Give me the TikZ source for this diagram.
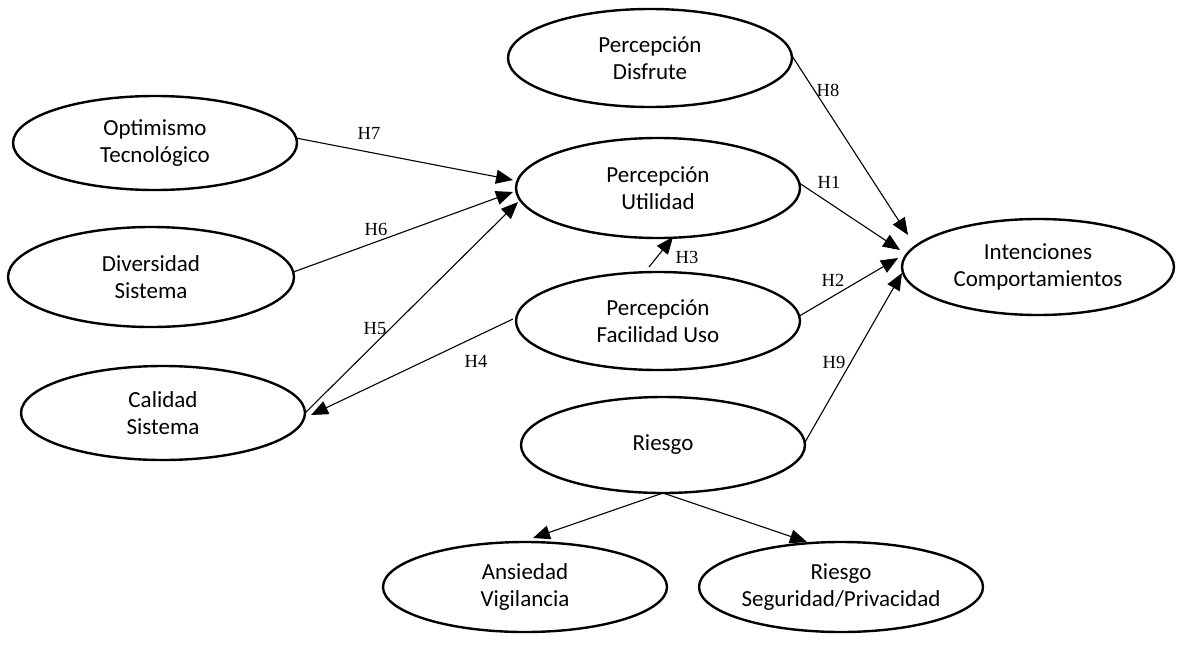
\documentclass[tikz,border=0pt]{standalone}
\usepackage{fontspec}
\setmainfont{Liberation Serif}
\newfontfamily\ovalfont{Carlito}
\usetikzlibrary{shapes.geometric,arrows.meta}
\begin{document}
\begin{tikzpicture}[x=1pt,y=-1pt,
  construct/.style 2 args={ellipse,draw,line width=2.4pt,inner sep=0pt,outer sep=0pt,
    align=center,minimum width=#1,minimum height=#2,
    font=\ovalfont\fontsize{23}{27}\selectfont},
  link/.style={line width=1.1pt,-{Triangle[length=17pt,width=14pt]}},
  hyp/.style={font=\fontsize{18.5}{20}\selectfont,inner sep=0pt}]
\useasboundingbox (0,0) rectangle (1181,645);

% constructs of the model
\node[construct={284pt}{98pt}] (pd) at (650,58)  {Percepción\\Disfrute};
\node[construct={284pt}{94pt}] (ot) at (155,143) {Optimismo\\Tecnológico};
\node[construct={284pt}{100pt}] (pu) at (658,188) {Percepción\\Utilidad};
\node[construct={286pt}{100pt}] (ds) at (151,277) {Diversidad\\Sistema};
\node[construct={284pt}{98pt}] (pf) at (658,321) {Percepción\\Facilidad Uso};
\node[construct={272pt}{96pt}] (ic) at (1038,267) {Intenciones\\Comportamientos};
\node[construct={284pt}{94pt}] (cs) at (163,413) {Calidad\\Sistema};
\node[construct={284pt}{96pt}] (rg) at (663,445) {Riesgo};
\node[construct={284pt}{90pt}] (av) at (525,587) {Ansiedad\\Vigilancia};
\node[construct={284pt}{90pt}] (rs) at (841,587) {Riesgo\\Seguridad/Privacidad};

% hypotheses towards behavioural intentions
\draw[link] (pd.1) -- ([shift={(6,-32)}]ic.west);
\draw[link] (pu.2) -- ([shift={(-2,-17)}]ic.west);
\draw[link] (pf.2) -- ([shift={(-4,-9)}]ic.west);
\draw[link] (rg.1) -- ([shift={(0,6)}]ic.west);

% antecedents of perceived usefulness
\draw[link] (ot.2) -- ([shift={(-3,-8)}]pu.west);
\draw[link] (ds.2) -- ([shift={(-3,4)}]pu.west);
\draw[link] (cs.east) -- ([shift={(2,14)}]pu.west);
\draw[link] ([shift={(-3,-2)}]pf.west) -- ([shift={(6,2)}]cs.east);
\draw[link] ([shift={(-9,-5)}]pf.north) -- ([shift={(15,-1)}]pu.south);

% dimensions of risk
\draw[link] (rg.south) -- ([shift={(8,-4)}]av.north);
\draw[link] (rg.south) -- ([shift={(-34,0)}]rs.north);

% hypothesis labels
\node[hyp] (h8) at (828,90)  {H8};
\node[hyp] (h1) at (829,182) {H1};
\node[hyp] (h2) at (833,280) {H2};
\node[hyp] (h9) at (834,362) {H9};
\node[hyp] (h7) at (369,133) {H7};
\node[hyp] (h6) at (376,229) {H6};
\node[hyp] (h5) at (375,329) {H5};
\node[hyp] (h4) at (476,361) {H4};
\node[hyp] (h3) at (687,257) {H3};
\end{tikzpicture}
\end{document}
